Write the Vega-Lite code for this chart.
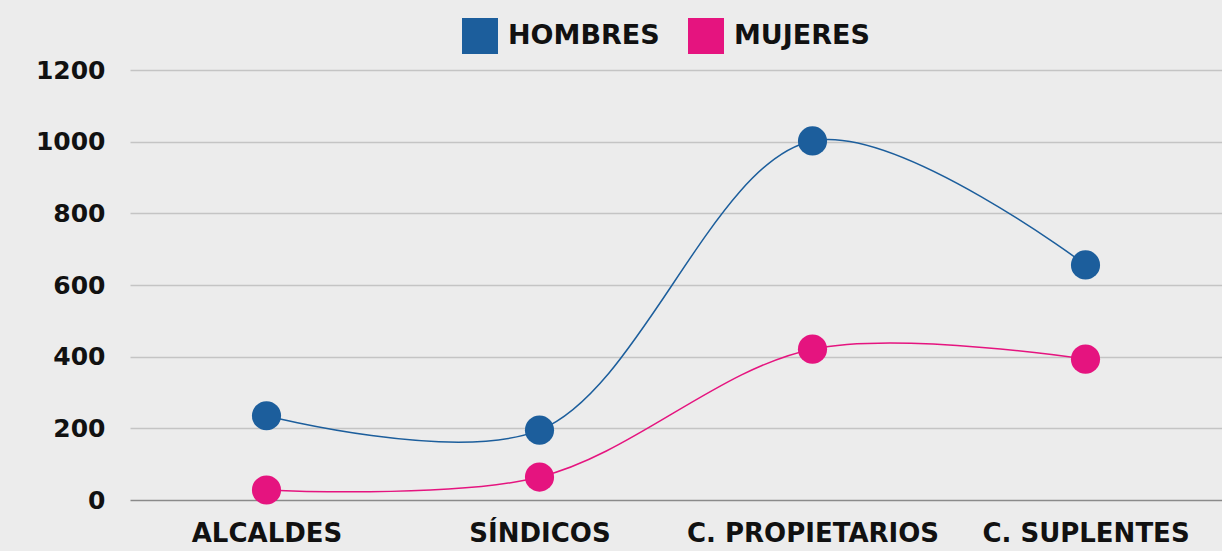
{
  "$schema": "https://vega.github.io/schema/vega-lite/v6.json",
  "width": 1092,
  "height": 430,
  "autosize": {"type": "none"},
  "padding": {"left": 130, "top": 70, "right": 0, "bottom": 51},
  "background": "#ececec",
  "config": {
    "view": {"stroke": null},
    "font": "DejaVu Sans",
    "axis": {"labelFont": "DejaVu Sans", "labelFontWeight": "bold", "labelColor": "#111111"},
    "legend": {"labelFont": "DejaVu Sans", "labelFontWeight": "bold"}
  },
  "data": {
    "values": [
      {"cargo": "ALCALDES", "sexo": "HOMBRES", "valor": 235},
      {"cargo": "SÍNDICOS", "sexo": "HOMBRES", "valor": 195},
      {"cargo": "C. PROPIETARIOS", "sexo": "HOMBRES", "valor": 1002},
      {"cargo": "C. SUPLENTES", "sexo": "HOMBRES", "valor": 656},
      {"cargo": "ALCALDES", "sexo": "MUJERES", "valor": 28},
      {"cargo": "SÍNDICOS", "sexo": "MUJERES", "valor": 64},
      {"cargo": "C. PROPIETARIOS", "sexo": "MUJERES", "valor": 421},
      {"cargo": "C. SUPLENTES", "sexo": "MUJERES", "valor": 393}
    ]
  },
  "encoding": {
    "x": {
      "field": "cargo",
      "type": "nominal",
      "sort": ["ALCALDES", "SÍNDICOS", "C. PROPIETARIOS", "C. SUPLENTES"],
      "scale": {"type": "point", "padding": 0.5},
      "axis": {
        "title": null,
        "labelAngle": 0,
        "labelFontSize": 26,
        "labelPadding": 20,
        "labelLimit": 0,
        "labelOverlap": false,
        "ticks": false,
        "domain": false,
        "grid": false
      }
    },
    "y": {
      "field": "valor",
      "type": "quantitative",
      "scale": {"domain": [0, 1200], "nice": false},
      "axis": {
        "title": null,
        "values": [0, 200, 400, 600, 800, 1000, 1200],
        "format": "d",
        "labelFontSize": 25,
        "labelPadding": 25,
        "ticks": false,
        "domain": false,
        "grid": true,
        "gridColor": {"condition": {"test": "datum.value === 0", "value": "#8a8a8a"}, "value": "#c4c4c4"},
        "gridWidth": 1.5
      }
    },
    "color": {
      "field": "sexo",
      "type": "nominal",
      "scale": {"domain": ["HOMBRES", "MUJERES"], "range": ["#1c5e9c", "#e5147f"]},
      "legend": {
        "title": null,
        "orient": "none",
        "legendX": 332,
        "legendY": -52,
        "direction": "horizontal",
        "symbolType": "square",
        "symbolSize": 1296,
        "symbolStrokeWidth": 0,
        "symbolOpacity": 1,
        "labelFontSize": 27,
        "labelColor": "#111111",
        "columnPadding": 28,
        "labelOffset": 10
      }
    }
  },
  "layer": [
    {
      "mark": {"type": "line", "interpolate": "catmull-rom", "strokeWidth": 1.5}
    },
    {
      "mark": {"type": "point", "filled": true, "size": 850, "opacity": 1, "shape": "circle"}
    }
  ]
}
